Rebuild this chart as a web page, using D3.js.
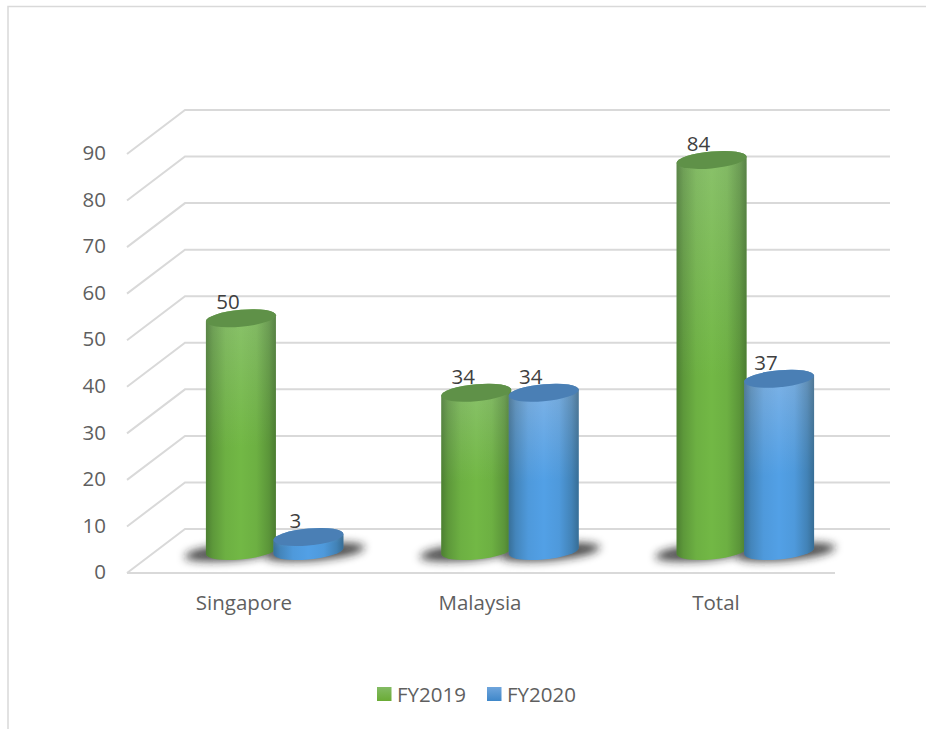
<!DOCTYPE html>
<html><head><meta charset="utf-8">
<script src="https://cdn.jsdelivr.net/npm/d3@7"></script>
<style>html,body{margin:0;padding:0;background:#fff}svg{display:block}text{font-family:"Open Sans",sans-serif}</style>
</head><body><div id="chart"></div>
<script>
const categories = ["Singapore", "Malaysia", "Total"];
const seriesNames = ["FY2019", "FY2020"];
const fy2019 = [50, 34, 84];
const fy2020 = [3, 34, 37];
const yTicks = [0,10,20,30,40,50,60,70,80,90];
const palette = {
  FY2019:{light:"#8ac26b",main:"#72b845",top:"#5f9148"},
  FY2020:{light:"#7fb3e6",main:"#52a0e6",top:"#4a7fb5"}
};
const W=926,H=729,fontSize=20.5;
const svg=d3.select("#chart").append("svg").attr("width",W).attr("height",H);
const defs=svg.append("defs");

const yFront=d3.scaleLinear().domain([0,90]).range([573,154]);
const yBack=d3.scaleLinear().domain([0,90]).range([529,110]);
const yMid=d3.scaleLinear().domain([0,90]).range([551,132]);
const xFront=d3.scaleBand().domain(categories).range([127,835]);
const xBack=[185,890];
const xMid=d3.scaleBand().domain(categories).range([157,863]);
const xSeries=d3.scaleBand().domain(seriesNames).range([-67.5,67.5]);
const rx=35, ry=8.5, skew=-5;

// frame
svg.append("path").attr("d",`M8,${H}V6.5H${W}`).attr("fill","none").attr("stroke","#d9d9d9").attr("stroke-width",1.5);

// gradients
seriesNames.forEach(s=>{
  const p=palette[s];
  const v=defs.append("linearGradient").attr("id","v"+s).attr("x1",0).attr("y1",0).attr("x2",0).attr("y2",1);
  v.append("stop").attr("offset","0%").attr("stop-color",p.light);
  v.append("stop").attr("offset","55%").attr("stop-color",p.main);
  v.append("stop").attr("offset","100%").attr("stop-color",p.main);
});
const h=defs.append("linearGradient").attr("id","shade").attr("x1",0).attr("y1",0).attr("x2",1).attr("y2",0);
[[0,.36],[.1,.2],[.28,.05],[.5,0],[.72,.05],[.9,.22],[1,.38]].forEach(([o,a])=>
  h.append("stop").attr("offset",o).attr("stop-color","#0a1a10").attr("stop-opacity",a));
defs.append("filter").attr("id","blur").attr("x","-30%").attr("y","-150%").attr("width","160%").attr("height","400%")
  .append("feGaussianBlur").attr("stdDeviation",4);

// gridlines: back wall, side wall and floor
const grid=svg.append("g").attr("fill","none").attr("stroke","#d9d9d9").attr("stroke-width",2);
grid.selectAll("path").data(yTicks).join("path")
  .attr("d",d=>`M${xFront.range()[0]},${yFront(d)}L${xBack[0]},${yBack(d)}H${xBack[1]}`);
grid.append("line").attr("x1",xFront.range()[0]).attr("x2",xFront.range()[1])
  .attr("y1",yFront(0)).attr("y2",yFront(0));

// y axis
const axisG=svg.append("g").attr("transform","translate(106,0)")
  .call(d3.axisLeft(yFront).tickValues(yTicks).tickSize(0).tickPadding(0));
axisG.select(".domain").remove();
axisG.selectAll("text").attr("font-size",fontSize).attr("fill","#5f5f5f")
  .style("font-family",'"Open Sans",sans-serif').attr("dy","0.33em").attr("transform","translate(0,-1)");

// x labels
svg.append("g").selectAll("text").data(categories).join("text")
  .attr("x",d=>xFront(d)+xFront.bandwidth()/2-1).attr("y",610)
  .attr("text-anchor","middle").attr("font-size",fontSize).attr("fill","#5f5f5f").text(d=>d);

// flatten
const marks=[];
categories.forEach((c,i)=>{
  marks.push({c,s:"FY2019",v:fy2019[i]});
  marks.push({c,s:"FY2020",v:fy2020[i]});
});
const cx=d=>xMid(d.c)+xMid.bandwidth()/2+xSeries(d.s)+xSeries.bandwidth()/2;

// shadows
svg.append("g").selectAll("ellipse").data(marks).join("ellipse")
  .attr("transform",d=>`translate(${cx(d)+(d.s==="FY2019"?-7:7)},0) skewY(${skew})`)
  .attr("cx",0).attr("cy",yMid(0)+1)
  .attr("rx",rx+14).attr("ry",ry)
  .attr("fill","#222").attr("fill-opacity",0.8).attr("filter","url(#blur)");

// cylinders
const bars=svg.append("g").selectAll("g").data(marks).join("g")
  .attr("transform",d=>`translate(${cx(d)},0) skewY(${skew})`);
const body=d=>{const t=yMid(d.v),b=yMid(0);
  return `M${-rx},${t}V${b}A${rx},${ry} 0 0 0 ${rx},${b}V${t}A${rx},${ry} 0 0 0 ${-rx},${t}Z`;};
bars.append("path").attr("d",body).attr("fill",d=>`url(#v${d.s})`);
bars.append("path").attr("d",body).attr("fill","url(#shade)");
bars.append("ellipse").attr("cx",0).attr("cy",d=>yMid(d.v)).attr("rx",rx).attr("ry",ry)
  .attr("fill",d=>palette[d.s].top);

// value labels
svg.append("g").selectAll("text").data(marks).join("text")
  .attr("x",d=>cx(d)-13).attr("y",d=>yMid(d.v)-9)
  .attr("text-anchor","middle").attr("font-size",fontSize).attr("fill","#404040").text(d=>d.v);

// legend
const legendX=[377,487];
const lg=defs.selectAll(".lg").data(seriesNames).join("linearGradient").attr("class","lg")
  .attr("id",d=>"l"+d).attr("x1",0).attr("y1",0).attr("x2",0).attr("y2",1);
lg.append("stop").attr("offset","0%").attr("stop-color",d=>d==="FY2019"?"#83bb64":"#6fa5dc");
lg.append("stop").attr("offset","100%").attr("stop-color",d=>d==="FY2019"?"#6aab35":"#3f87c9");
const leg=svg.append("g").selectAll("g").data(seriesNames).join("g")
  .attr("transform",(d,i)=>`translate(${legendX[i]},687)`);
leg.append("rect").attr("width",14.5).attr("height",14).attr("fill",d=>`url(#l${d})`);
leg.append("text").attr("x",20).attr("y",14.5).attr("font-size",fontSize).attr("fill","#5f5f5f").text(d=>d);
</script></body></html>
